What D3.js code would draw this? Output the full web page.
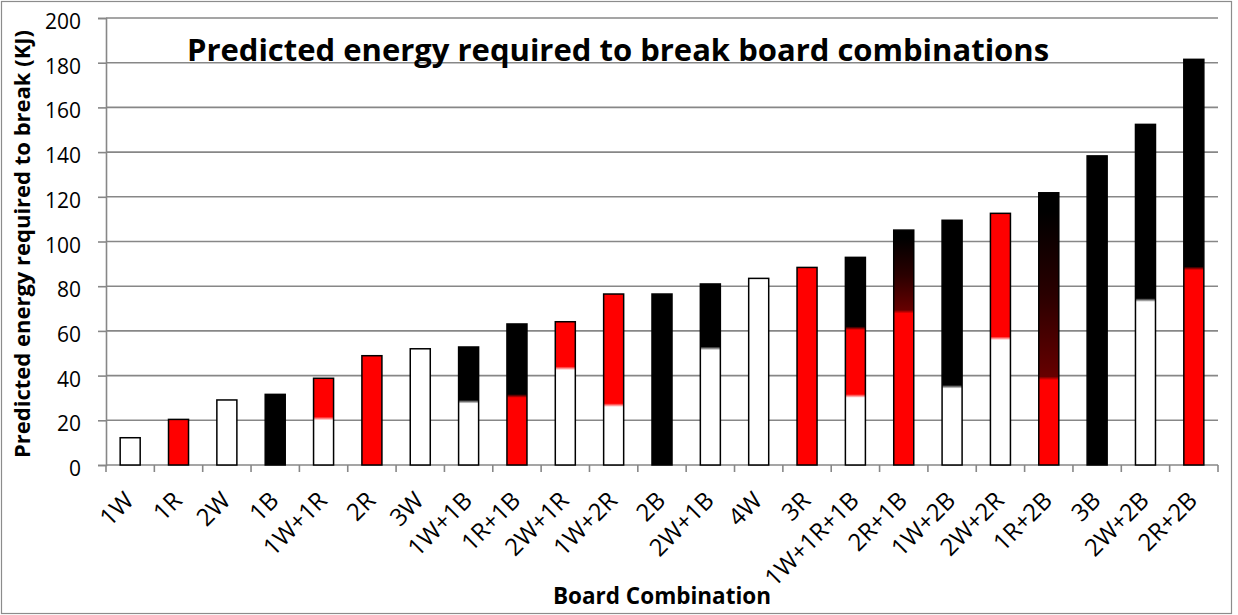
<!DOCTYPE html>
<html>
<head>
<meta charset="utf-8">
<script src="https://cdn.jsdelivr.net/npm/d3@7"></script>
<style>
  body { margin: 0; background: #fff; }
  text { font-family: "Open Sans", "DejaVu Sans", sans-serif; }
</style>
</head>
<body>
<div id="main"></div>
<script>
// board combinations along the x axis
const categories = ["1W", "1R", "2W", "1B", "1W+1R", "2R", "3W", "1W+1B", "1R+1B", "2W+1R", "1W+2R",
    "2B", "2W+1B", "4W", "3R", "1W+1R+1B", "2R+1B", "1W+2B", "2W+2R", "1R+2B", "3B", "2W+2B", "2R+2B"];

// energy contributed by each board colour (KJ), stacked white -> red -> black
const whiteValues = [12.2, 0, 29.1, 0, 20.8, 0, 52, 28.3, 0, 43.3, 26.8,
    0, 52.2, 83.5, 0, 30.9, 0, 35, 56.7, 0, 0, 73.8, 0];
const redValues = [0, 20.4, 0, 0, 18, 48.9, 0, 0, 30.9, 20.8, 49.7,
    0, 0, 0, 88.4, 30.3, 68.6, 0, 55.9, 38.8, 0, 0, 88];
const blackValues = [0, 0, 0, 31.6, 0, 0, 0, 24.5, 32.2, 0, 0,
    76.5, 28.8, 0, 0, 31.7, 36.5, 74.5, 0, 83, 138.3, 78.6, 93.5];

const yTicks = [0, 20, 40, 60, 80, 100, 120, 140, 160, 180, 200];

const svgWidth = 1238;
const svgHeight = 615;
const margin = {top: 18, right: 20, bottom: 150, left: 106};
const chartWidth = svgWidth - margin.left - margin.right;
const chartHeight = svgHeight - margin.top - margin.bottom;

const gridColor = '#878787';
const colors = {white: '#ffffff', red: '#ff0000', black: '#000000'};

// these two bars fade from dark red into black in the original
const fadedBlack = ['2R+1B', '1R+2B'];

let svg, xScale, yScale;

function createChart() {
    svg = d3.select('#main')
        .append('svg')
        .attr('width', svgWidth)
        .attr('height', svgHeight);

    // outer chart border
    svg.append('rect')
        .attr('x', 1.5).attr('y', 1.5)
        .attr('width', 1230).attr('height', svgHeight - 3)
        .attr('fill', 'none')
        .attr('stroke', '#8c8c8c')
        .attr('stroke-width', 1.2);

    xScale = d3.scaleBand()
        .domain(categories)
        .range([0, chartWidth])
        .paddingInner(0.586)
        .paddingOuter(0.293);

    yScale = d3.scaleLinear()
        .domain([0, 200])
        .range([chartHeight, 0]);

    const g = svg.append('g')
        .attr('transform', `translate(${margin.left}, ${margin.top})`);

    // horizontal gridlines
    g.append('g')
        .selectAll('line')
        .data(yTicks.slice(1))
        .enter()
        .append('line')
        .attr('x1', 0).attr('x2', chartWidth)
        .attr('y1', d => yScale(d)).attr('y2', d => yScale(d))
        .attr('stroke', gridColor)
        .attr('stroke-width', 1.6);

    // y axis
    const yAxis = g.append('g')
        .call(d3.axisLeft(yScale).tickValues(yTicks).tickSize(8).tickPadding(17));
    yAxis.select('.domain').attr('stroke', gridColor).attr('stroke-width', 1.6);
    yAxis.selectAll('.tick line').attr('stroke', gridColor).attr('stroke-width', 1.6);
    yAxis.selectAll('.tick text')
        .attr('font-family', '"Open Sans", sans-serif')
        .attr('font-size', 21)
        .attr('fill', '#000')
        .attr('dy', '0.5em');

    // x axis: ticks sit on the band edges
    const xAxis = g.append('g')
        .attr('transform', `translate(0, ${chartHeight})`);
    xAxis.append('line')
        .attr('x1', 0).attr('x2', chartWidth)
        .attr('stroke', gridColor).attr('stroke-width', 1.6);
    xAxis.selectAll('.edge')
        .data(d3.range(categories.length + 1))
        .enter()
        .append('line')
        .attr('class', 'edge')
        .attr('x1', i => i * xScale.step()).attr('x2', i => i * xScale.step())
        .attr('y1', 0).attr('y2', 7)
        .attr('stroke', gridColor).attr('stroke-width', 1.6);
    xAxis.selectAll('.label')
        .data(categories)
        .enter()
        .append('text')
        .attr('class', 'label')
        .attr('text-anchor', 'end')
        .attr('font-size', 24)
        .attr('transform', d => `translate(${xScale(d) + xScale.bandwidth() / 2 + 5}, 37) rotate(-45)`)
        .text(d => d);

    // a vertical gradient per bar, with soft blends between the colours
    const defs = svg.append('defs');
    const blend = 0.8;
    categories.forEach((c, i) => {
        const segs = [
            {color: colors.white, v: whiteValues[i]},
            {color: colors.red, v: redValues[i]},
            {color: colors.black, v: blackValues[i]}
        ].filter(s => s.v > 0);
        const total = d3.sum(segs, s => s.v);
        const grad = defs.append('linearGradient')
            .attr('id', `grad-${i}`)
            .attr('x1', 0).attr('y1', 1)
            .attr('x2', 0).attr('y2', 0);
        let start = 0;
        segs.forEach((s, k) => {
            const lo = k > 0 ? start + blend : start;
            const hi = k < segs.length - 1 ? start + s.v - blend : start + s.v;
            let bottomColor = s.color;
            if (s.color === colors.black && fadedBlack.includes(c)) {
                bottomColor = '#660000';
            }
            grad.append('stop').attr('offset', lo / total).attr('stop-color', bottomColor);
            if (bottomColor !== s.color) {
                grad.append('stop').attr('offset', (start + s.v * 0.45) / total).attr('stop-color', '#2a0000');
                grad.append('stop').attr('offset', (start + s.v * 0.9) / total).attr('stop-color', s.color);
            }
            grad.append('stop').attr('offset', hi / total).attr('stop-color', s.color);
            start += s.v;
        });
    });

    // bars
    g.append('g')
        .selectAll('rect')
        .data(categories)
        .enter()
        .append('rect')
        .attr('x', d => xScale(d))
        .attr('width', xScale.bandwidth())
        .attr('y', (d, i) => yScale(whiteValues[i] + redValues[i] + blackValues[i]))
        .attr('height', (d, i) => chartHeight - yScale(whiteValues[i] + redValues[i] + blackValues[i]))
        .attr('fill', (d, i) => `url(#grad-${i})`)
        .attr('stroke', '#000')
        .attr('stroke-width', 1.5);

    // titles
    svg.append('text')
        .attr('x', 618).attr('y', 61)
        .attr('text-anchor', 'middle')
        .attr('font-size', 31)
        .attr('font-weight', 'bold')
        .text('Predicted energy required to break board combinations');

    svg.append('text')
        .attr('transform', `translate(30, 244) rotate(-90)`)
        .attr('text-anchor', 'middle')
        .attr('font-size', 22)
        .attr('font-weight', 'bold')
        .text('Predicted energy required to break (KJ)');

    svg.append('text')
        .attr('x', margin.left + chartWidth / 2).attr('y', 604)
        .attr('text-anchor', 'middle')
        .attr('font-size', 22.5)
        .attr('font-weight', 'bold')
        .text('Board Combination');
}

createChart();
</script>
</body>
</html>
